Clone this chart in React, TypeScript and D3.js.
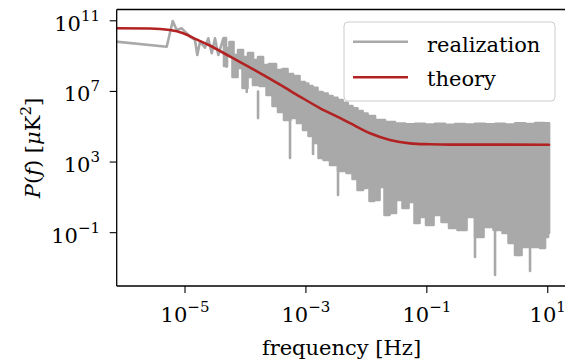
import React from "react";
import * as d3 from "d3";

// ---- data (log10 values) ----
// theory curve: log10 frequency [Hz] and log10 power [µK²]
const theoryLogF = [-6.2, -5.58, -5.25, -5.03, -4.8, -4.59, -4.26, -3.76, -3.43, -3.1, -2.77, -2.44, -2.27, -1.94, -1.61, -1.28, -0.95, -0.62, 1.02];
const theoryLogP = [10.575, 10.564, 10.48, 10.3, 9.93, 9.6, 8.98, 8.04, 7.39, 6.71, 6.06, 5.5, 5.2, 4.63, 4.25, 4.06, 4.007, 3.985, 3.984];

// realization, low-frequency part (individual samples)
const realLowLogF = [-6.24, -5.303, -5.203, -5.137, -5.055, -4.917, -4.835, -4.797, -4.752, -4.669, -4.615, -4.558, -4.504, -4.449, -4.366, -4.31];
const realLowLogP = [9.856, 9.533, 10.989, 10.479, 10.575, 10.1, 9.913, 9.063, 9.817, 9.477, 10.009, 9.16, 10.009, 9.063, 10.009, 8.401];

// realization, dense part: upper envelope
const realUpperLogF = [-4.355, -4.289, -4.239, -4.156, -4.09, -3.991, -3.925, -3.825, -3.759, -3.66, -3.561, -3.428, -3.346, -3.263, -3.164, -3.048, -2.99, -2.932, -2.85, -2.767, -2.68, -2.601, -2.52, -2.436, -2.35, -2.27, -2.19, -2.105, -2.02, -1.94, -1.774, -1.609, -1.443, -1.28, -1.113, -0.95, -0.782, -0.62, -0.451, -0.29, -0.12, 0.05, 0.211, 0.38, 0.542, 0.71, 0.873, 1.022];
const realUpperLogP = [10.026, 9.46, 9.8, 9.063, 9.347, 8.95, 9.177, 8.78, 8.95, 8.497, 8.554, 8.214, 8.271, 7.988, 7.874, 7.534, 7.45, 7.308, 7.2, 6.968, 6.88, 6.742, 6.64, 6.515, 6.36, 6.175, 6.05, 5.892, 5.75, 5.609, 5.382, 5.269, 5.185, 5.14, 5.17, 5.12, 5.16, 5.11, 5.15, 5.13, 5.17, 5.14, 5.16, 5.13, 5.19, 5.15, 5.21, 5.2];

// realization, dense part: lower edge of the filled band
const realLowerLogF = [-4.355, -4.256, -4.173, -4.09, -4.007, -3.925, -3.825, -3.709, -3.594, -3.511, -3.412, -3.313, -3.197, -3.098, -2.998, -2.916, -2.816, -2.767, -2.651, -2.552, -2.386, -2.27, -2.188, -2.105, -2.006, -1.973, -1.923, -1.824, -1.741, -1.658, -1.576, -1.443, -1.361, -1.245, -1.162, -1.079, -0.947, -0.831, -0.682, -0.583, -0.401, -0.285, -0.12, -0.004, 0.211, 0.294, 0.409, 0.509, 0.624, 0.823, 0.922, 0.988, 1.022];
const realLowerLogP = [8.44, 9.007, 7.818, 8.327, 7.195, 7.818, 7.365, 7.308, 6.798, 6.175, 5.836, 5.383, 5.496, 5.213, 4.817, 4.477, 4.08, 3.231, 3.118, 2.835, 2.495, 2.382, 2.042, 1.419, 1.532, 2.155, 0.796, 0.853, 1.589, 0.003, 0.117, 0.853, 0.4, 0.74, -0.45, -0.11, -0.563, 0.003, -0.393, -0.733, -0.846, -0.11, -1.243, -0.676, -0.846, -1.016, -1.582, -2.262, -1.809, -1.809, -1.865, -1.243, -1.016];

// realization, deep downward spikes
const spikeLogF = [-3.979, -3.792, -3.263, -2.882, -2.469, -0.203, 0.128, 0.525, 0.707];
const spikeTopLogP = [7.6, 7.0, 6.0, 5.0, 3.0, 0.0, 0.0, -1.0, -1.0];
const spikeBottomLogP = [6.968, 5.49, 3.231, 3.457, 1.136, -2.375, -3.394, -2.262, -3.168];

const xTicks = [-5, -3, -1, 1];
const yTicks = [11, 7, 3, -1];
const legendLabels = ["realization", "theory"];

const GRAY = "#a9a9a9";
const RED = "#b22222";
const FONT = "DejaVu Serif";

export default function App() {
  const W = 565, H = 360;
  const left = 116.7, top = 9.5, bottom = 286, right = 568.3;
  const x = d3.scaleLog().domain([10 ** -6.13, 10 ** 1.34]).range([left, right]);
  const y = d3.scaleLog().domain([10 ** -4.02, 10 ** 11.64]).range([bottom, top]);

  const line = d3
    .line<[number, number]>()
    .x((d) => x(10 ** d[0]))
    .y((d) => y(10 ** d[1]));
  const stepLine = d3
    .line<[number, number]>()
    .x((d) => x(10 ** d[0]))
    .y((d) => y(10 ** d[1]))
    .curve(d3.curveStep);
  const smooth = d3
    .line<[number, number]>()
    .x((d) => x(10 ** d[0]))
    .y((d) => y(10 ** d[1]))
    .curve(d3.curveMonotoneX);

  const theory: [number, number][] = theoryLogF.map((f, i) => [f, theoryLogP[i]]);
  const low: [number, number][] = realLowLogF.map((f, i) => [f, realLowLogP[i]]);
  const upper: [number, number][] = realUpperLogF.map((f, i) => [f, realUpperLogP[i]]);
  const lower: [number, number][] = realLowerLogF.map((f, i) => [f, realLowerLogP[i]]);
  const bandPath =
    (stepLine(upper) ?? "") + (stepLine(lower.slice().reverse()) ?? "").replace(/^M/, "L") + "Z";

  const fmt = (e: number) => (e < 0 ? "\u2212" + Math.abs(e) : String(e));

  return (
    <svg
      width={W}
      height={H}
      style={{ position: "absolute", left: 0, top: 0, background: "#fff" }}
      fontFamily={FONT}
    >
      <defs>
        <clipPath id="plot">
          <rect x={left} y={top} width={right - left} height={bottom - top} />
        </clipPath>
      </defs>
      <g clipPath="url(#plot)">
        <path d={line(low) ?? ""} fill="none" stroke={GRAY} strokeWidth={2.6} strokeLinejoin="round" strokeLinecap="round" />
        <path d={bandPath} fill={GRAY} stroke={GRAY} strokeWidth={2.6} strokeLinejoin="round" />
        {spikeLogF.map((f, i) => (
          <line
            key={i}
            x1={x(10 ** f)}
            x2={x(10 ** f)}
            y1={y(10 ** spikeTopLogP[i])}
            y2={y(10 ** spikeBottomLogP[i])}
            stroke={GRAY}
            strokeWidth={2.6}
            strokeLinecap="round"
          />
        ))}
        <path d={smooth(theory) ?? ""} fill="none" stroke={RED} strokeWidth={2.6} strokeLinecap="round" />
      </g>

      {/* spines */}
      <line x1={left} x2={left} y1={top} y2={bottom} stroke="#000" strokeWidth={1.3} />
      <line x1={left} x2={right} y1={bottom} y2={bottom} stroke="#000" strokeWidth={1.3} />
      <line x1={left} x2={right} y1={top} y2={top} stroke="#000" strokeWidth={1.3} />
      <line x1={right} x2={right} y1={top} y2={bottom} stroke="#000" strokeWidth={1.3} />

      {/* x ticks */}
      {xTicks.map((e) => {
        const px = x(10 ** e);
        return (
          <g key={e}>
            <line x1={px} x2={px} y1={bottom} y2={bottom + 7} stroke="#000" strokeWidth={1.1} />
            <text x={px} y={322} textAnchor="middle" fontSize={21} fill="#000">
              10<tspan fontSize={15} dy={-10}>{fmt(e)}</tspan>
            </text>
          </g>
        );
      })}
      {/* y ticks */}
      {yTicks.map((e) => {
        const py = y(10 ** e);
        return (
          <g key={e}>
            <line x1={left - 7} x2={left} y1={py} y2={py} stroke="#000" strokeWidth={1.1} />
            <text x={100} y={py + 10} textAnchor="end" fontSize={21} fill="#000">
              10<tspan fontSize={15} dy={-10}>{fmt(e)}</tspan>
            </text>
          </g>
        );
      })}

      {/* axis labels */}
      <text x={341.5} y={355} textAnchor="middle" fontSize={21} fill="#000">
        frequency [Hz]
      </text>
      <text transform="translate(40,148) rotate(-90)" textAnchor="middle" fontSize={21} fill="#000">
        <tspan fontStyle="italic">P</tspan>(<tspan fontStyle="italic">f</tspan>) [<tspan fontStyle="italic">μ</tspan>K<tspan fontSize={15} dy={-9}>2</tspan><tspan dy={9}>]</tspan>
      </text>

      {/* legend */}
      <rect x={344} y={22} width={211} height={79} rx={4} fill="#fff" fillOpacity={0.8} stroke="#cccccc" strokeWidth={1} />
      <line x1={353} x2={408} y1={41.7} y2={41.7} stroke={GRAY} strokeWidth={2.6} />
      <line x1={353} x2={408} y1={77.3} y2={77.3} stroke={RED} strokeWidth={2.6} />
      <text x={427} y={51.5} fontSize={21} fill="#000">{legendLabels[0]}</text>
      <text x={427} y={86} fontSize={21} fill="#000">{legendLabels[1]}</text>
    </svg>
  );
}
